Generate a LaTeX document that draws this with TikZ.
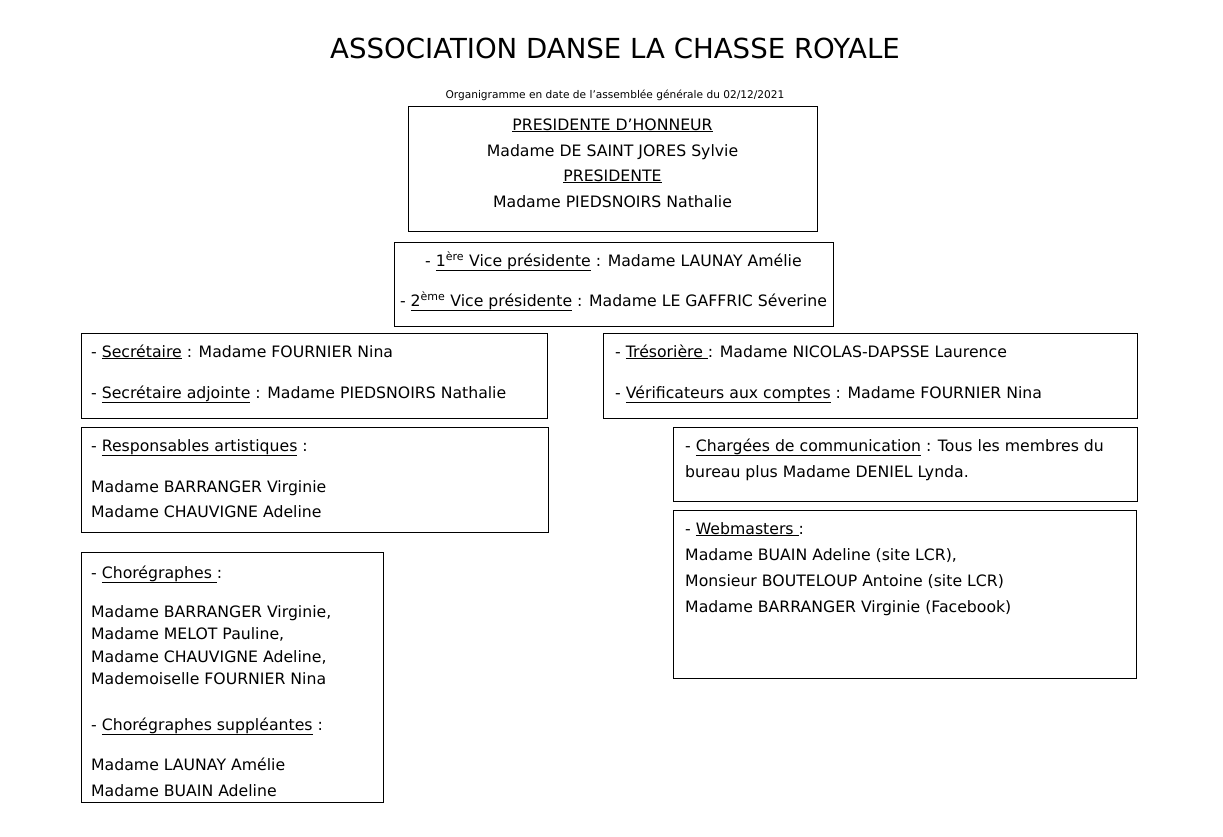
\documentclass[tikz,border=0pt]{standalone}
\usepackage{fontspec}
\setmainfont{DejaVu Sans}
\usepackage{tikz}
\usetikzlibrary{positioning}

\newcommand{\souligne}[1]{\underline{#1}}

\begin{document}
\begin{tikzpicture}[x=1pt, y=-1pt,
  box/.style={draw=black, line width=1pt, inner sep=0pt},
  txt/.style={anchor=base west, inner sep=0pt, font=\fontsize{15.7}{18}\selectfont},
  ctxt/.style={txt, anchor=base}
]
  \useasboundingbox (0,0) rectangle (1223,836);

  % Titre
  \node[anchor=base, font=\fontsize{27.6}{32}\selectfont] (titre) at (615,58) {ASSOCIATION DANSE LA CHASSE ROYALE};
  \node[anchor=base, font=\fontsize{10.6}{12}\selectfont] (date) at (615,98) {Organigramme en date de l'assemblée générale du 02/12/2021};

  % Cadres
  \node[box, minimum width=409pt, minimum height=125pt] (pres)   at (612.5,168.5) {};
  \node[box, minimum width=439pt, minimum height=84pt]  (vice)   at (613.5,284)   {};
  \node[box, minimum width=466pt, minimum height=85pt]  (secr)   at (314,375.5)   {};
  \node[box, minimum width=534pt, minimum height=85pt]  (treso)  at (870,375.5)   {};
  \node[box, minimum width=467pt, minimum height=105pt] (artist) at (314.5,479.5) {};
  \node[box, minimum width=464pt, minimum height=74pt]  (comm)   at (905,464)     {};
  \node[box, minimum width=463pt, minimum height=168pt] (web)    at (904.5,594)   {};
  \node[box, minimum width=302pt, minimum height=250pt] (choreo) at (232,677)     {};

  % Presidence
  \node[ctxt] (hon)   at (612.5,130) {\souligne{PRESIDENTE D'HONNEUR}};
  \node[ctxt] (sjores) at (612.5,156) {Madame DE SAINT JORES Sylvie};
  \node[ctxt] (presi) at (612.5,181) {\souligne{PRESIDENTE}};
  \node[ctxt] (pieds) at (612.5,207) {Madame PIEDSNOIRS Nathalie};

  % Vice presidentes
  \node[ctxt] (vice1) at (613.5,266) {- \souligne{1\textsuperscript{ère} Vice présidente} : Madame LAUNAY Amélie};
  \node[ctxt] (vice2) at (613.5,306) {- \souligne{2\textsuperscript{ème} Vice présidente} : Madame LE GAFFRIC Séverine};

  % Secretariat / tresorerie
  \node[txt] (sec1) at (91,357)  {- \souligne{Secrétaire} : Madame FOURNIER Nina};
  \node[txt] (sec2) at (91,398)  {- \souligne{Secrétaire adjointe} : Madame PIEDSNOIRS Nathalie};
  \node[txt] (tre1) at (615,357) {- \souligne{Trésorière\ }: Madame NICOLAS-DAPSSE Laurence};
  \node[txt] (tre2) at (615,398) {- \souligne{Vérificateurs aux comptes} : Madame FOURNIER Nina};

  % Responsables artistiques
  \node[txt] (art1) at (91,451) {- \souligne{Responsables artistiques} :};
  \node[txt] (art2) at (91,492) {Madame BARRANGER Virginie};
  \node[txt] (art3) at (91,517) {Madame CHAUVIGNE Adeline};

  % Communication
  \node[txt] (com1) at (685,451) {- \souligne{Chargées de communication} : Tous les membres du};
  \node[txt] (com2) at (685,477) {bureau plus Madame DENIEL Lynda.};

  % Webmasters
  \node[txt] (web1) at (685,534) {- \souligne{Webmasters\ }:};
  \node[txt] (web2) at (685,560) {Madame BUAIN Adeline (site LCR),};
  \node[txt] (web3) at (685,586) {Monsieur BOUTELOUP Antoine (site LCR)};
  \node[txt] (web4) at (685,612) {Madame BARRANGER Virginie (Facebook)};

  % Choregraphes
  \node[txt] (cho1) at (91,578) {- \souligne{Chorégraphes\ }:};
  \node[txt] (cho2) at (91,617) {Madame BARRANGER Virginie,};
  \node[txt] (cho3) at (91,639) {Madame MELOT Pauline,};
  \node[txt] (cho4) at (91,662) {Madame CHAUVIGNE Adeline,};
  \node[txt] (cho5) at (91,684) {Mademoiselle FOURNIER Nina};
  \node[txt] (sup1) at (91,730) {- \souligne{Chorégraphes suppléantes} :};
  \node[txt] (sup2) at (91,770) {Madame LAUNAY Amélie};
  \node[txt] (sup3) at (91,796) {Madame BUAIN Adeline};
\end{tikzpicture}
\end{document}
